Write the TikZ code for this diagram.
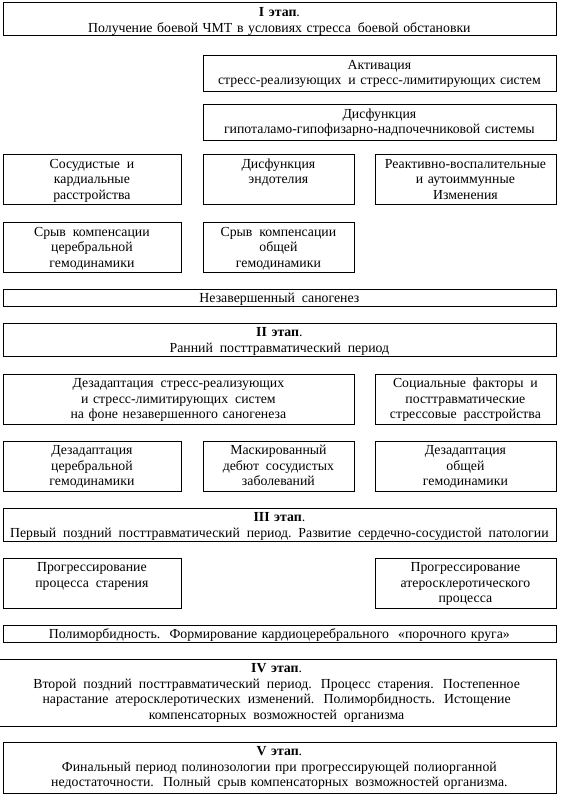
\documentclass[tikz,border=0pt]{standalone}
\usepackage{fontspec}
\setmainfont{Liberation Serif}
\tikzset{
  boxline/.style={draw, line width=0.8pt, inner sep=0pt, anchor=north west},
  boxtext/.style={anchor=north, align=center, inner sep=0pt, font=\fontsize{13.8}{15.5}\selectfont}
}
\newcommand\bx[6]{%
  \pgfmathsetmacro\bw{#4-#2}%
  \pgfmathsetmacro\bh{#5-#3}%
  \pgfmathsetmacro\tw{#4-#2-2}%
  \node[boxline, minimum width=\bw pt, minimum height=\bh pt] (#1) at (#2,#3) {};
  \node[boxtext, text width=\tw pt] (#1t) at ([yshift=-3.4pt]#1.north) {\strut #6};
}
\begin{document}
\begin{tikzpicture}[x=1pt,y=-1pt]
\useasboundingbox (0,0) rectangle (560,794);
\bx{s1}{2.5}{2.5}{555.5}{35.5}{{\bfseries I этап}.\\Получение боевой ЧМТ в условиях стресса\, боевой обстановки}
\bx{act}{202.5}{55}{555.5}{91}{Активация\\стресс-реализующих\, и стресс-лимитирующих систем}
\bx{gg}{202.5}{104}{555.5}{140}{Дисфункция\\гипоталамо-гипофизарно-надпочечниковой системы}
\bx{sk}{2.5}{154}{180.5}{204}{Сосудистые\, и\\кардиальные\\расстройства}
\bx{de}{202.5}{154}{353.5}{204}{Дисфункция\\эндотелия}
\bx{rv}{374.5}{154}{555.5}{204}{Реактивно-воспалительные\\и аутоиммунные\\Изменения}
\bx{sc}{2.5}{222}{180.5}{272}{Срыв\, компенсации\\церебральной\\гемодинамики}
\bx{so}{202.5}{222}{353.5}{272}{Срыв\, компенсации\\общей\\гемодинамики}
\bx{ns}{2.5}{288.5}{555.5}{305.5}{Незавершенный\, саногенез}
\bx{s2}{2.5}{322.5}{555.5}{355.5}{{\bfseries II этап}.\\Ранний\, посттравматический\, период}
\bx{dz}{2.5}{373.5}{353.5}{423.5}{Дезадаптация\, стресс-реализующих\\и стресс-лимитирующих\, систем\\на фоне незавершенного саногенеза}
\bx{sf}{374.5}{373.5}{555.5}{423.5}{Социальные\, факторы\, и\\посттравматические\\стрессовые\, расстройства}
\bx{dc}{2.5}{440.5}{180.5}{490.5}{Дезадаптация\\церебральной\\гемодинамики}
\bx{mk}{202.5}{440.5}{353.5}{490.5}{Маскированный\\дебют\, сосудистых\\заболеваний}
\bx{dg}{374.5}{440.5}{555.5}{490.5}{Дезадаптация\\общей\\гемодинамики}
\bx{s3}{2.5}{507.5}{555.5}{540.5}{{\bfseries III этап}.\\Первый\, поздний\, посттравматический\, период. Развитие\, сердечно-сосудистой\, патологии}
\bx{ps}{2.5}{557.5}{180.5}{607.5}{Прогрессирование\\процесса\, старения}
\bx{pa}{374.5}{557.5}{555.5}{607.5}{Прогрессирование\\атеросклеротического\\процесса}
\bx{pm}{2.5}{624.5}{555.5}{641.5}{Полиморбидность.\, Формирование кардиоцеребрального\, \,«порочного круга»}
\bx{s4}{-3}{658.5}{555.5}{725.5}{{\bfseries IV этап}.\\Второй\, поздний\, посттравматический\, период.\, Процесс\, старения.\, Постепенное\\нарастание\, атеросклеротических\, изменений.\, Полиморбидность.\, Истощение\\компенсаторных\, возможностей\, организма}
\bx{s5}{2.5}{741.5}{555.5}{792.5}{{\bfseries V этап}.\\Финальный период полинозологии при прогрессирующей полиорганной\\недостаточности.\, Полный\, срыв компенсаторных\, возможностей организма.}
\end{tikzpicture}
\end{document}
